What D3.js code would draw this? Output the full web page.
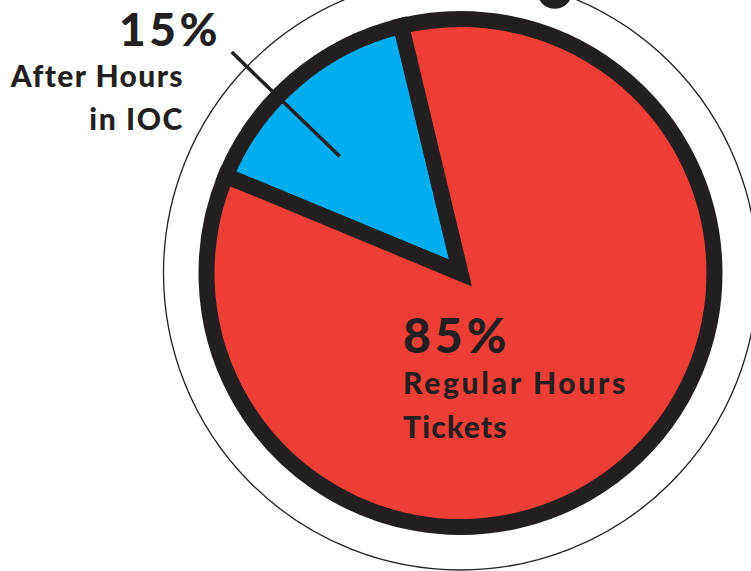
<!DOCTYPE html>
<html>
<head>
<meta charset="utf-8">
<script src="https://cdn.jsdelivr.net/npm/d3@7/dist/d3.min.js"></script>
<style>
  html, body { margin: 0; padding: 0; background: #ffffff; }
  svg { display: block; }
  text { font-family: "Lato", "Open Sans", sans-serif; font-weight: 900; fill: #231F20; }
</style>
</head>
<body>
<svg id="chart" width="751" height="571"></svg>
<script>
// Ticket share by time of handling (percent)
const categories = ["After Hours in IOC", "Regular Hours Tickets"];
const shares = [15, 85];
const percentLabels = ["15%", "85%"];
const nameLines = [["After Hours", "in IOC"], ["Regular Hours", "Tickets"]];
const sliceColors = ["#00AEEF", "#EE3E35"];

const W = 751, H = 571;
const cx = 460.5, cy = 273;
const ink = "#231F20";
const deg = Math.PI / 180;

const svg = d3.select("#chart");
const g = svg.append("g").attr("transform", `translate(${cx},${cy})`);

// outer thin dial ring with a knob
const dialR = 297;
g.append("circle")
  .attr("r", dialR)
  .attr("fill", "none")
  .attr("stroke", ink)
  .attr("stroke-width", 1.3);

const knobAngle = 18.5 * deg;
g.append("circle")
  .attr("cx", dialR * Math.sin(knobAngle))
  .attr("cy", -dialR * Math.cos(knobAngle))
  .attr("r", 17.5)
  .attr("fill", ink);

// pie
const pieR = 254;
const pie = d3.pie().sort(null).value(d => d)
  .startAngle(-67.5 * deg)
  .endAngle(292.5 * deg);
const arcs = pie(shares);
const arc = d3.arc().innerRadius(0).outerRadius(pieR);

g.selectAll("path.slice")
  .data(arcs)
  .join("path")
  .attr("class", "slice")
  .attr("d", arc)
  .attr("fill", (d, i) => sliceColors[i])
  .attr("stroke", ink)
  .attr("stroke-width", 16)
  .attr("stroke-linejoin", "miter")
  .attr("stroke-miterlimit", 10);

// leader line for the small slice
const small = arcs[0];
const leadAngle = (small.startAngle + small.endAngle) / 2 - 5.5 * deg;
const r0 = 168, r1 = 318;
g.append("line")
  .attr("x1", r0 * Math.sin(leadAngle))
  .attr("y1", -r0 * Math.cos(leadAngle))
  .attr("x2", r1 * Math.sin(leadAngle))
  .attr("y2", -r1 * Math.cos(leadAngle))
  .attr("stroke", ink)
  .attr("stroke-width", 3.5);

// labels
const root = svg.append("g");

// small slice label, right aligned left of the dial
root.append("text")
  .attr("x", 221).attr("y", 46)
  .attr("text-anchor", "end")
  .style("font-size", "46px")
  .style("letter-spacing", "3.5px")
  .text(percentLabels[0]);
const leftSpacing = [1.4, 1.6];
nameLines[0].forEach((line, i) => {
  root.append("text")
    .attr("x", 184).attr("y", 87 + i * 43)
    .attr("text-anchor", "end")
    .style("font-size", "30px")
    .style("letter-spacing", leftSpacing[i] + "px")
    .text(line);
});

// large slice label inside the pie
root.append("text")
  .attr("x", 403).attr("y", 353)
  .style("font-size", "48px")
  .style("letter-spacing", "4px")
  .text(percentLabels[1]);
const rightSpacing = [2.7, 1.2];
nameLines[1].forEach((line, i) => {
  root.append("text")
    .attr("x", 403).attr("y", 394 + i * 44)
    .style("font-size", "30px")
    .style("letter-spacing", rightSpacing[i] + "px")
    .text(line);
});
</script>
</body>
</html>
